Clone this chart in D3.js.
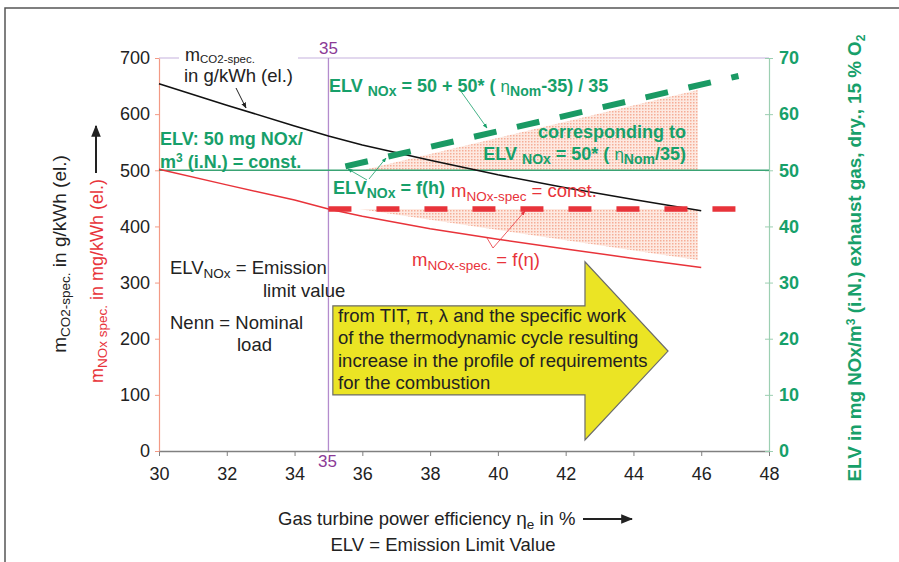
<!DOCTYPE html>
<html>
<head>
<meta charset="utf-8">
<script src="https://cdn.jsdelivr.net/npm/d3@7"></script>
<style>
  body { margin: 0; background: #fff; }
  svg { font-family: "Liberation Sans", Arial, sans-serif; }
</style>
</head>
<body>
<div id="chart"></div>
<script>
// efficiency in %, specific emissions
var efficiency = [30, 32, 34, 35, 36, 38, 40, 42, 44, 46];
var co2Spec = [654, 616, 579, 561, 545, 518, 492, 469, 448, 428];
var noxSpec = [502, 474, 447, 431, 418, 396, 377, 360, 343, 327];

// ELV rising with efficiency (dashed green) and the constant ELV
var elvRiseEff = [35.5, 47.1];
var elvRise = [50.7, 66.8];
var elvConst = 50;

// constant m_NOx (dashed red)
var noxConstEff = [35, 47.2];
var noxConst = 431;

// shaded wedges
var upperShadeEff = [36, 45.9, 45.9];
var upperShadeElv = [50, 64.3, 50];
var lowerShadeEff = [35.9, 45.9, 45.9];
var lowerShadeNox = [431, 431, 340];

// big yellow arrow outline (efficiency, left axis units)
var arrowEff = [35.13, 42.57, 42.57, 45.02, 42.57, 42.57, 35.13];
var arrowVal = [258.5, 258.5, 336.9, 178, 19.6, 99.8, 99.8];

var xTicks = [30, 32, 34, 36, 38, 40, 42, 44, 46, 48];
var leftTicks = [0, 100, 200, 300, 400, 500, 600, 700];
var rightTicks = [0, 10, 20, 30, 40, 50, 60, 70];

var W = 899, H = 562;
var black = "#222", red = "#e8333a", green = "#17a06a", purple = "#8b3a96";

var svg = d3.select("#chart").append("svg")
  .attr("width", W).attr("height", H);

var defs = svg.append("defs");
var pat = defs.append("pattern").attr("id", "dots")
  .attr("width", 3).attr("height", 3).attr("patternUnits", "userSpaceOnUse");
pat.append("rect").attr("width", 3).attr("height", 3).attr("fill", "#fde9e1");
pat.append("rect").attr("width", 1.5).attr("height", 1.5).attr("fill", "#f5ad97");

function marker(id, color) {
  defs.append("marker").attr("id", id)
    .attr("viewBox", "0 0 10 10").attr("refX", 9).attr("refY", 5)
    .attr("markerWidth", 6).attr("markerHeight", 6).attr("orient", "auto")
    .append("path").attr("d", "M0,1 L10,5 L0,9 Z").attr("fill", color);
}
marker("arrBlack", black);
marker("arrGreen", green);
marker("arrRed", red);

// outer frame
svg.append("rect").attr("x", 5).attr("y", 8).attr("width", 910).attr("height", 570)
  .attr("fill", "none").attr("stroke", "#555").attr("stroke-width", 1.5);

var x = d3.scaleLinear().domain([30, 48]).range([159, 769]);
var yL = d3.scaleLinear().domain([0, 700]).range([451, 58]);
var yR = d3.scaleLinear().domain([0, 70]).range([451, 58]);

// top border line of plot
svg.append("line").attr("x1", x(30)).attr("x2", x(48)).attr("y1", yL(700)).attr("y2", yL(700))
  .attr("stroke", "#d9cbe9").attr("stroke-width", 1.5);

// shaded areas
svg.append("polygon")
  .attr("points", upperShadeEff.map(function(d, i) { return [x(d), yR(upperShadeElv[i])]; }).join(" "))
  .attr("fill", "url(#dots)");
svg.append("polygon")
  .attr("points", lowerShadeEff.map(function(d, i) { return [x(d), yL(lowerShadeNox[i])]; }).join(" "))
  .attr("fill", "url(#dots)");

// axes
var gx = svg.append("g").attr("transform", "translate(0," + yL(0) + ")")
  .call(d3.axisBottom(x).tickValues(xTicks).tickSize(5).tickSizeOuter(0).tickPadding(11));
gx.select(".domain").attr("stroke", "#808080").attr("stroke-width", 1.5);
gx.selectAll(".tick line").attr("stroke", "#808080");
gx.selectAll("text").attr("font-size", 18).attr("fill", black).attr("font-family", "Liberation Sans, Arial");

var gl = svg.append("g").attr("transform", "translate(" + x(30) + ",0)")
  .call(d3.axisLeft(yL).tickValues(leftTicks).tickSize(4).tickSizeOuter(0).tickPadding(5));
gl.select(".domain").attr("stroke", "#f39a85").attr("stroke-width", 1.2);
gl.selectAll(".tick line").attr("stroke", "#f39a85");
gl.selectAll("text").attr("font-size", 18).attr("fill", black).attr("font-family", "Liberation Sans, Arial");

var gr = svg.append("g").attr("transform", "translate(" + x(48) + ",0)")
  .call(d3.axisRight(yR).tickValues(rightTicks).tickSize(4).tickSizeOuter(0).tickPadding(6));
gr.select(".domain").attr("stroke", "#9ccfb2").attr("stroke-width", 1.2);
gr.selectAll(".tick line").attr("x1", -4).attr("stroke", "#9ccfb2");
gr.selectAll("text").attr("font-size", 18).attr("font-weight", "bold").attr("fill", green)
  .attr("font-family", "Liberation Sans, Arial");

// 35 % marker line
svg.append("line").attr("x1", x(35)).attr("x2", x(35)).attr("y1", yL(700)).attr("y2", yL(0))
  .attr("stroke", "#b48ccd").attr("stroke-width", 1.3);
svg.append("text").attr("x", x(35)).attr("y", 54).attr("text-anchor", "middle")
  .attr("font-size", 17).attr("fill", purple).text("35");
svg.append("text").attr("x", x(35) - 1).attr("y", 467).attr("text-anchor", "middle")
  .attr("font-size", 17).attr("fill", purple).text("35");

// constant ELV
svg.append("line").attr("x1", x(30)).attr("x2", x(48)).attr("y1", yR(elvConst)).attr("y2", yR(elvConst))
  .attr("stroke", "#3aa374").attr("stroke-width", 1.6);

var lineL = d3.line().x(function(d) { return x(d[0]); }).y(function(d) { return yL(d[1]); });
var lineR = d3.line().x(function(d) { return x(d[0]); }).y(function(d) { return yR(d[1]); });

svg.append("path").attr("d", lineL(d3.zip(efficiency, co2Spec)))
  .attr("fill", "none").attr("stroke", "#111").attr("stroke-width", 1.6);
svg.append("path").attr("d", lineL(d3.zip(efficiency, noxSpec)))
  .attr("fill", "none").attr("stroke", red).attr("stroke-width", 1.5);

svg.append("path").attr("d", lineL(noxConstEff.map(function(d) { return [d, noxConst]; })))
  .attr("fill", "none").attr("stroke", red).attr("stroke-width", 5.5).attr("stroke-dasharray", "23,25");
svg.append("path").attr("d", lineR(d3.zip(elvRiseEff, elvRise)))
  .attr("fill", "none").attr("stroke", "#1a9a64").attr("stroke-width", 6).attr("stroke-dasharray", "23,21");

// yellow arrow
svg.append("path").attr("d", lineL(d3.zip(arrowEff, arrowVal)) + "Z")
  .attr("fill", "#ebe424").attr("stroke", "#6b6b6b").attr("stroke-width", 1.2);

// rich text helper: parts = [text, "sub"|"sup"|null, size, weight, shift]
function rich(g, px, py, parts, attrs) {
  var t = g.append("text").attr("x", px).attr("y", py);
  Object.keys(attrs || {}).forEach(function(k) { t.attr(k, attrs[k]); });
  var shift = 0;
  parts.forEach(function(p) {
    var s = p[1] === "sub" ? 4 : p[1] === "sup" ? -6 : 0;
    if (p[4] !== undefined) s = p[4];
    var ts = t.append("tspan").text(p[0]).attr("dy", s - shift);
    if (p[2]) ts.attr("font-size", p[2]);
    if (p[3]) ts.attr("font-weight", p[3]);
    shift = s;
  });
  return t;
}

var ann = svg.append("g");

// CO2 label with white background
ann.append("rect").attr("x", 179).attr("y", 48).attr("width", 119).attr("height", 14).attr("fill", "#fff");
rich(ann, 185, 61, [["m"], ["CO2-spec.", "sub", 11.5, null, 2]], { "font-size": 18, fill: black });
ann.append("text").attr("x", 184).attr("y", 82).attr("font-size", 18.5).attr("fill", black).text("in g/kWh (el.)");
ann.append("line").attr("x1", 236).attr("y1", 88).attr("x2", 246).attr("y2", 108)
  .attr("stroke", black).attr("stroke-width", 1).attr("marker-end", "url(#arrBlack)");

// green annotations
var gb = { "font-size": 18, "font-weight": "bold", fill: green };
ann.append("text").attr("x", 160).attr("y", 145).attr("font-size", 18).attr("font-weight", "bold")
  .attr("fill", green).text("ELV: 50 mg NOx/");
rich(ann, 160, 168, [["m"], ["3", "sup", 12], [" (i.N.) = const."]], gb);

rich(ann, 329, 92, [["ELV "], ["NOx", "sub", 14], [" = 50 + 50* ( "], ["η", null, 17, "normal"], ["Nom", "sub", 14], ["-35) / 35"]], gb);
ann.append("line").attr("x1", 460).attr("y1", 90).attr("x2", 487).attr("y2", 128)
  .attr("stroke", green).attr("stroke-width", 0.8).attr("marker-end", "url(#arrGreen)");

var ra = Object.assign({}, gb, { "text-anchor": "end" });
ann.append("text").attr("x", 686).attr("y", 138).attr("text-anchor", "end").attr("font-size", 18)
  .attr("font-weight", "bold").attr("fill", green).text("corresponding to");
rich(ann, 686, 160, [["ELV "], ["NOx", "sub", 14], [" = 50* ( "], ["η", null, 17, "normal"], ["Nom", "sub", 14], ["/35)"]], ra);

rich(ann, 333, 194, [["ELV"], ["NOx", "sub", 14], [" = f(h)"]], gb);
ann.append("line").attr("x1", 367).attr("y1", 180).attr("x2", 348).attr("y2", 169)
  .attr("stroke", green).attr("stroke-width", 0.8).attr("marker-end", "url(#arrGreen)");
ann.append("line").attr("x1", 369).attr("y1", 179).attr("x2", 386).attr("y2", 158)
  .attr("stroke", green).attr("stroke-width", 0.8).attr("marker-end", "url(#arrGreen)");

// red annotations
var rd = { "font-size": 18.5, fill: red };
rich(ann, 451, 197, [["m"], ["NOx-spec", "sub", 13.5], [" = const."]], rd);
rich(ann, 412, 266, [["m"], ["NOx-spec.", "sub", 13.5], [" = f(η)"]], rd);
ann.append("line").attr("x1", 493).attr("y1", 248).attr("x2", 525).attr("y2", 211)
  .attr("stroke", red).attr("stroke-width", 0.8).attr("marker-end", "url(#arrRed)");
ann.append("line").attr("x1", 493).attr("y1", 248).attr("x2", 487).attr("y2", 238)
  .attr("stroke", red).attr("stroke-width", 0.8);

// black notes
var bk = { "font-size": 18.5, fill: black };
rich(ann, 170, 274, [["ELV"], ["NOx", "sub", 13.5], [" = Emission"]], bk);
ann.append("text").attr("x", 263).attr("y", 297).attr("font-size", 18.5).attr("fill", black).text("limit value");
ann.append("text").attr("x", 170).attr("y", 329).attr("font-size", 18.5).attr("fill", black).text("Nenn = Nominal");
ann.append("text").attr("x", 237).attr("y", 351).attr("font-size", 18.5).attr("fill", black).text("load");

// arrow text
var arrowText = [
  "from TIT, π, λ and the specific work",
  "of the thermodynamic cycle resulting",
  "increase in the profile of requirements",
  "for the combustion"
];
ann.selectAll("text.arrowTxt").data(arrowText).enter().append("text")
  .attr("class", "arrowTxt")
  .attr("x", 338).attr("y", function(d, i) { return 322 + i * 22.4; })
  .attr("font-size", 18.5).attr("fill", black).text(function(d) { return d; });

// left axis titles
var lt = svg.append("g").attr("transform", "translate(66,254) rotate(-90)");
rich(lt, 0, 0, [["m"], ["CO2-spec.", "sub", 13.5], [" in g/kWh (el.)"]], { "font-size": 19, fill: black, "text-anchor": "middle" });
var lt2 = svg.append("g").attr("transform", "translate(103,281) rotate(-90)");
rich(lt2, 0, 0, [["m"], ["NOx spec.", "sub", 13.5], [" in mg/kWh (el.)"]], { "font-size": 18, fill: red, "text-anchor": "middle" });
svg.append("line").attr("x1", 96).attr("y1", 173).attr("x2", 96).attr("y2", 126)
  .attr("stroke", black).attr("stroke-width", 2).attr("marker-end", "url(#arrBlack)");

// right axis title
var rt = svg.append("g").attr("transform", "translate(861,258) rotate(-90)");
rich(rt, 0, 0, [["ELV in mg NOx/m"], ["3", "sup", 12], [" (i.N.) exhaust gas, dry., 15 % O"], ["2", "sub", 12]],
  { "font-size": 18.8, "font-weight": "bold", fill: green, "text-anchor": "middle" });

// x axis titles
rich(svg, 278, 525, [["Gas turbine power efficiency "], ["η", null, 19], ["e", "sub", 13.5], [" in %"]], { "font-size": 18.5, fill: black });
svg.append("line").attr("x1", 583).attr("y1", 519).attr("x2", 632).attr("y2", 519)
  .attr("stroke", black).attr("stroke-width", 2).attr("marker-end", "url(#arrBlack)");
svg.append("text").attr("x", 443).attr("y", 551).attr("text-anchor", "middle")
  .attr("font-size", 18.5).attr("fill", black).text("ELV = Emission Limit Value");
</script>
</body>
</html>
